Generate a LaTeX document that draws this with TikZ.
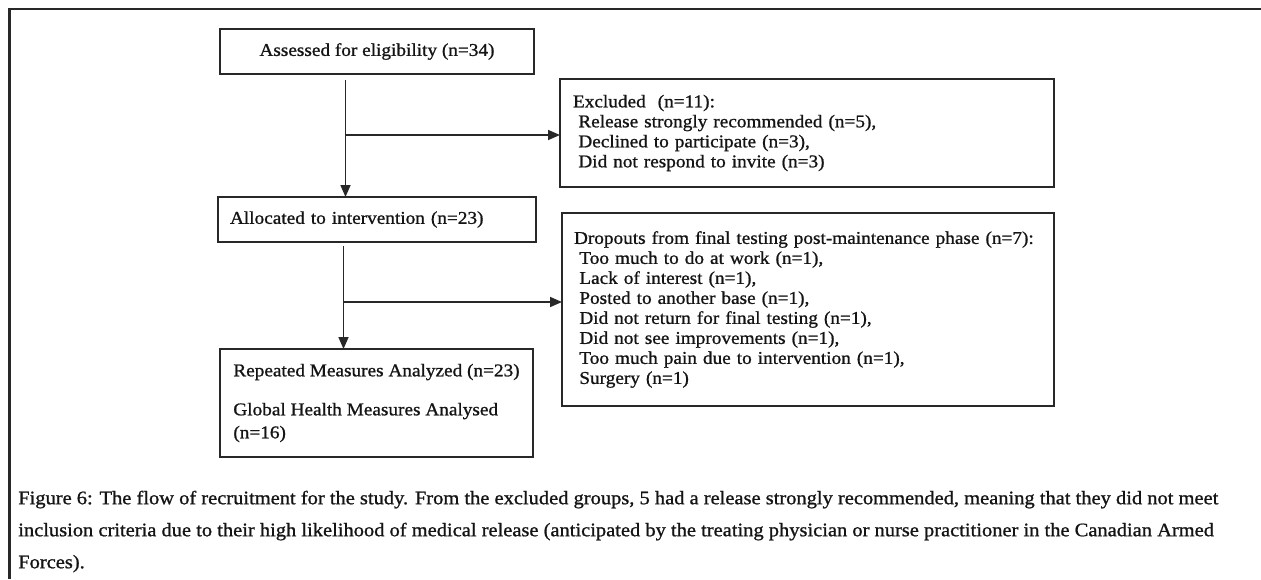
\documentclass[tikz,border=0pt]{standalone}
\usepackage{fontspec}
\setmainfont[FakeStretch=1.07, FakeBold=1]{Liberation Serif}
\usetikzlibrary{arrows.meta, calc, positioning}
\definecolor{mylinegray}{RGB}{40, 40, 40}
\definecolor{mytextblack}{RGB}{20, 20, 20}

\begin{document}
\begin{tikzpicture}[x=0.75pt, y=-0.75pt,
  flowbox/.style={draw=mylinegray, line width=1.4pt, text=mytextblack, outer sep=0, inner xsep=9pt, font=\fontsize{13.5}{15}\selectfont},
  flowarrow/.style={-{Triangle[length=9pt, width=7.5pt]}, line width=1.2pt, mylinegray}]
\useasboundingbox (0,0) rectangle (1261,579);

% --- Frame ---
\draw [line width=2.2pt, mylinegray] (1261,9) -- (9.5,9) -- (9.5,579);

% --- Main column ---
\node at (377,51.5) [flowbox, text centered, minimum width=235.5pt, minimum height=33.75pt] (assessed) {Assessed for eligibility (n=34)};
\node at (377,219.5) [flowbox, align=left, text width=220.5pt, minimum height=33.75pt] (allocated) {Allocated to intervention (n=23)};
\node at (376.5,403) [flowbox, align=left, minimum width=234.75pt, minimum height=81pt, font=\fontsize{13.5}{17.25}\selectfont] (analyzed) {Repeated Measures Analyzed (n=23)\\[12pt] Global Health Measures Analysed\\ (n=16)};

% --- Side boxes ---
\node at (807,133) [flowbox, align=left, text width=351pt, inner xsep=9.75pt, minimum height=81pt] (excluded) {Excluded\ \ (n=11):\\
\hspace*{4pt}Release strongly recommended (n=5),\\
\hspace*{4pt}Declined to participate (n=3),\\
\hspace*{4pt}Did not respond to invite (n=3)};
\node at (808,309.5) [flowbox, align=left, text width=351pt, minimum height=144.75pt] (dropouts) {Dropouts from final testing post-maintenance phase (n=7):\\
\hspace*{4pt}Too much to do at work (n=1),\\
\hspace*{4pt}Lack of interest (n=1),\\
\hspace*{4pt}Posted to another base (n=1),\\
\hspace*{4pt}Did not return for final testing (n=1),\\
\hspace*{4pt}Did not see improvements (n=1),\\
\hspace*{4pt}Too much pain due to intervention (n=1),\\
\hspace*{4pt}Surgery (n=1)};

% --- Arrows ---
\coordinate (split1) at (345.5,135);
\coordinate (split2) at (343.5,302);
\draw [flowarrow] ([yshift=-4.5pt]assessed.south -| split1) -- (split1 |- allocated.north);
\draw [flowarrow] (split1) -- (split1 -| excluded.west);
\draw [flowarrow] ([yshift=-3pt]allocated.south -| split2) -- (split2 |- analyzed.north);
\draw [flowarrow] (split2) -- (split2 -| dropouts.west);

% --- Caption ---
\node at (18,490.5) [anchor=north west, inner sep=0, align=left, text=mytextblack, font=\fontsize{14.35}{24}\selectfont] (caption) {Figure 6: The flow of recruitment for the study. From the excluded groups, 5 had a release strongly recommended, meaning that they did not meet\\
inclusion criteria due to their high likelihood of medical release (anticipated by the treating physician or nurse practitioner in the Canadian Armed\\
Forces).};
\end{tikzpicture}
\end{document}
